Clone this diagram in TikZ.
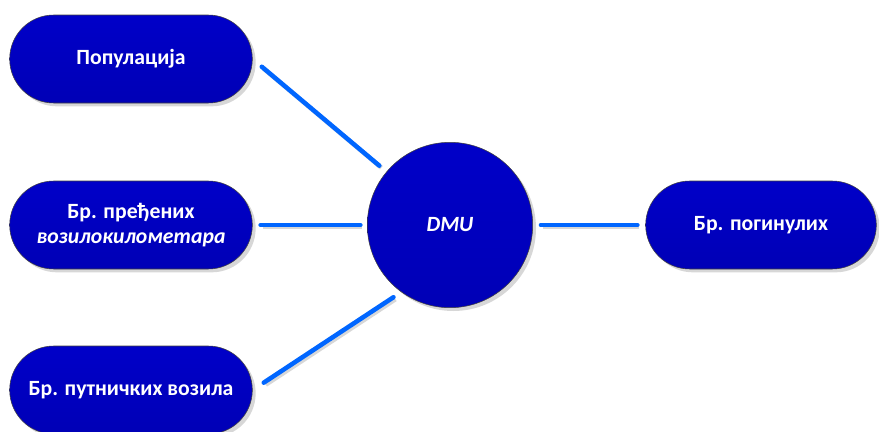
\documentclass[tikz,border=0pt]{standalone}
\usepackage{fontspec}
\setmainfont{Carlito}
\usepackage{tikz}
\usetikzlibrary{shadows}
\usetikzlibrary{positioning}
\definecolor{navyfill}{RGB}{0, 0, 200}
\definecolor{navydark}{RGB}{0, 0, 182}
\definecolor{linkblue}{RGB}{0, 102, 255}
\definecolor{shadowgray}{RGB}{215, 215, 215}

\begin{document}
\begin{tikzpicture}[x=0.75pt, y=-0.75pt,
    pill/.style={draw=black!75, thin, top color=navyfill, bottom color=navydark, text=white,
                 font=\bfseries\fontsize{16.3}{18.5}\selectfont, align=center,
                 minimum height=66pt, rounded corners=33pt,
                 drop shadow={shadow xshift=2.5pt, shadow yshift=-2.5pt, fill=shadowgray, opacity=1}},
    hub/.style={circle, draw=black!75, thin, top color=navyfill, bottom color=navydark, text=white,
                font=\bfseries\itshape\fontsize{16.3}{18.5}\selectfont, minimum size=124pt,
                drop shadow={shadow xshift=2.5pt, shadow yshift=-2.5pt, fill=shadowgray, opacity=1}},
    link/.style={linkblue, line width=3.4pt, line cap=round,
                 preaction={draw=shadowgray, line width=3.4pt, transform canvas={shift={(1.5pt,-1.5pt)}}}}]
    \useasboundingbox (0,0) rectangle (879,432);
    \node[pill, minimum width=182pt] (pop)  at (131, 59)  {Популација};
    \node[pill, minimum width=182pt] (vkm)  at (131, 225) {Бр. пређених\\\textit{возилокилометара}};
    \node[pill, minimum width=182pt] (cars) at (131, 390) {Бр. путничких возила};
    \node[hub]                       (dmu)  at (450, 225) {DMU};
    \node[pill, minimum width=173pt] (dead) at (761, 225) {Бр. погинулих};
    \draw[link, shorten <=9pt,  shorten >=7pt] (pop.east)  -- (dmu.140);
    \draw[link, shorten <=6pt,  shorten >=5pt] (vkm.east)  -- (dmu.west);
    \draw[link, shorten <=10pt, shorten >=7pt] (cars.east) -- (dmu.234);
    \draw[link, shorten <=6pt,  shorten >=6pt] (dmu.east)  -- (dead.west);
\end{tikzpicture}
\end{document}
